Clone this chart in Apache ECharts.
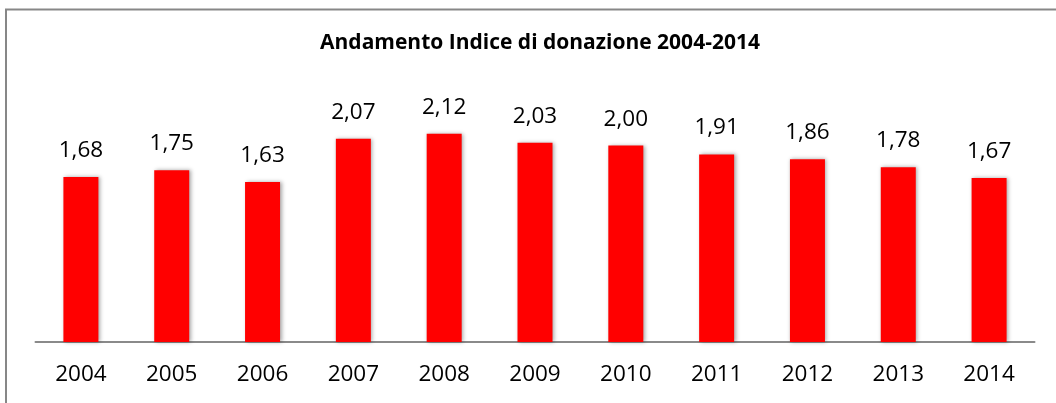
<!DOCTYPE html>
<html>
<head>
<meta charset="utf-8">
<script src="https://cdn.jsdelivr.net/npm/echarts@6/dist/echarts.min.js"></script>
<style>
    html, body { margin: 0; padding: 0; background: #fff; }
    #main { width: 1056px; height: 403px; }
</style>
</head>
<body>
<div id="main"></div>
<script>
// Chart data
const years = ["2004", "2005", "2006", "2007", "2008", "2009", "2010", "2011", "2012", "2013", "2014"];
const indice = [1.68, 1.75, 1.63, 2.07, 2.12, 2.03, 2.00, 1.91, 1.86, 1.78, 1.67];

const chart = echarts.init(document.getElementById("main"));

const options = {
    animation: false,
    textStyle: { fontFamily: "Open Sans" },
    title: {
        text: "Andamento Indice di donazione 2004-2014",
        left: 535,
        textAlign: "center",
        top: 28,
        textStyle: {
            fontFamily: "Open Sans",
            fontWeight: "bold",
            fontSize: 21,
            color: "#000",
        },
    },
    // outer frame of the chart area (right/bottom sides fall outside the picture)
    graphic: [
        {
            type: "rect",
            shape: { x: 6, y: 9.5, width: 1060, height: 400 },
            style: { fill: "none", stroke: "#878787", lineWidth: 2 },
            silent: true,
        },
    ],
    grid: {
        left: 35.5,
        right: 21.5,
        top: 47.4,
        bottom: 61,
    },
    xAxis: {
        type: "category",
        data: years,
        axisLine: { lineStyle: { color: "#8a8a8a", width: 2 } },
        axisTick: { show: false },
        axisLabel: {
            fontSize: 22.5,
            color: "#000",
            margin: 21,
        },
    },
    yAxis: {
        type: "value",
        min: 0,
        max: 3,
        show: false,
        splitLine: { show: false },
    },
    series: [
        {
            type: "bar",
            data: indice,
            barWidth: 35,
            itemStyle: {
                color: "#ff0000",
                shadowColor: "rgba(0,0,0,0.35)",
                shadowBlur: 4,
                shadowOffsetX: 1.5,
                shadowOffsetY: 0,
            },
            label: {
                show: true,
                position: "top",
                distance: 15,
                fontSize: 22.5,
                color: "#000",
                formatter: (p) => p.value.toFixed(2).replace(".", ","),
            },
        },
    ],
};

chart.setOption(options);
</script>
</body>
</html>
